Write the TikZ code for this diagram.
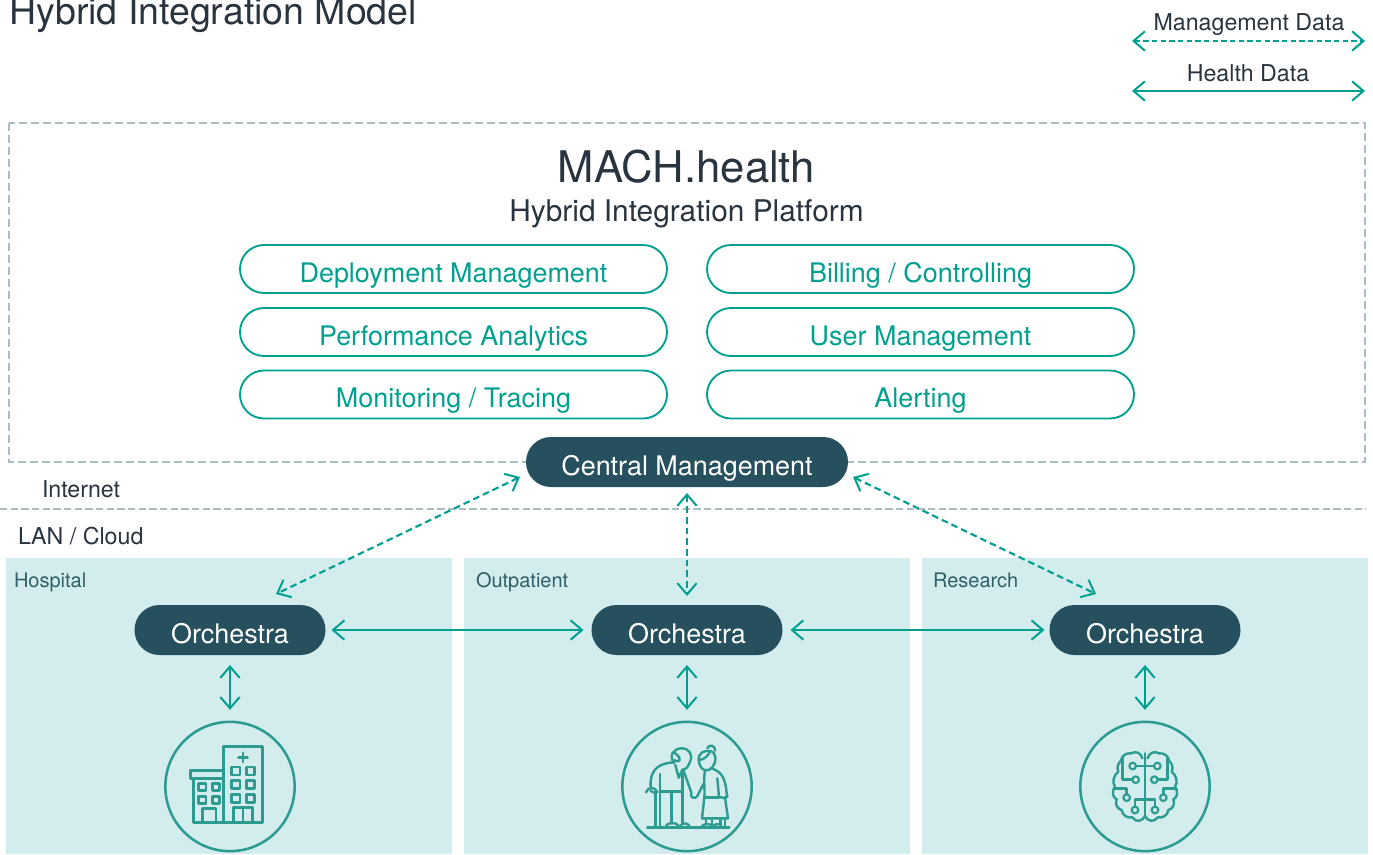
\documentclass[tikz,border=0pt]{standalone}
\usepackage{fontspec}
\usetikzlibrary{arrows.meta}
\setmainfont{TeX Gyre Heros}
\definecolor{teal}{HTML}{00A08F}
\definecolor{icon}{HTML}{2B9C8F}
\definecolor{darkpill}{HTML}{27505E}
\definecolor{panel}{HTML}{D3ECEE}
\definecolor{dashgrey}{HTML}{A9BDC4}
\definecolor{ink}{HTML}{2A343E}
\definecolor{paneltext}{HTML}{2F5F68}
\newcommand{\fs}[1]{\fontsize{#1}{#1}\selectfont}
\tikzset{
  every node/.style={inner sep=0pt,outer sep=0pt},
  tiptwo/.style={{Straight Barb[length=8.5pt,width=14.5pt,line width=1.5pt]}-{Straight Barb[length=8.5pt,width=14.5pt,line width=1.5pt]}},
  health/.style={tiptwo,teal,line width=1.5pt},
  mgmt/.style={tiptwo,teal,line width=1.6pt,dash pattern=on 5pt off 3pt},
  legm/.style={tiptwo,teal,line width=1.4pt,dash pattern=on 4pt off 2.5pt},
  pill/.style={draw=teal,line width=1.4pt,rounded corners=18pt,fill=white,minimum width=320.25pt,minimum height=36pt,text=teal,font=\fs{20.2},text height=27.75pt,text depth=8.25pt},
  darkp/.style={fill=darkpill,text=white,rounded corners=18.7pt,minimum height=37.5pt,font=\fs{20.2},text height=28.5pt,text depth=9pt},
  orch/.style={darkp,minimum width=143.25pt},
  lab/.style={text=ink,anchor=base west,font=\fs{17.4}},
  paneltitle/.style={text=paneltext,anchor=base west,font=\fs{15}},
  ring/.style={draw=icon,line width=1.9pt},
  glyph/.style={draw=icon,line width=1.8pt,line join=round,line cap=round},
  knot/.style={circle,draw=icon,line width=1.6pt,minimum size=5pt,fill=panel},
}
\begin{document}
\begin{tikzpicture}[x=0.75pt,y=-0.75pt]
\useasboundingbox (0,0) rectangle (1373,854);
\clip (0,0) rectangle (1373,854);
\fill[white] (0,0) rectangle (1373,854);

\node[text=ink,anchor=base west,font=\fs{28.1}] (title) at (9.5,24) {Hybrid Integration Model};
\node[text=ink,anchor=base,font=\fs{17.4}] (legmtext) at (1249,30.5) {Management Data};
\node[text=ink,anchor=base,font=\fs{17.4}] (leghtext) at (1248,81.5) {Health Data};
\coordinate (lm1) at (1132,41); \coordinate (lm2) at (1365,41);
\coordinate (lh1) at (1132,91); \coordinate (lh2) at (1365,91);
\draw[legm] (lm1) -- (lm2);
\draw[health] (lh1) -- (lh2);

\draw[dashgrey,line width=1.2pt,dash pattern=on 6pt off 3pt] (9,123) rectangle (1365,462);
\draw[dashgrey,line width=1pt,dash pattern=on 5.5pt off 2.5pt] (0,509) -- (1366,509);

\node[text=ink,anchor=base,font=\fs{32.7}] (mach) at (686.5,182) {MACH.health};
\node[text=ink,anchor=base,font=\fs{22.4}] (hip) at (686.5,221) {Hybrid Integration Platform};

\node[pill] (p1) at (453.5,269) {Deployment Management};
\node[pill] (p2) at (453.5,332) {Performance Analytics};
\node[pill] (p3) at (453.5,394.5) {Monitoring / Tracing};
\node[pill] (p4) at (920.5,269) {Billing / Controlling\hspace{2pt}};
\node[pill] (p5) at (920.5,332) {User Management\hspace{2pt}};
\node[pill] (p6) at (920.5,394.5) {Alerting\hspace{2pt}};

\node[lab] (inet) at (42,497) {Internet};
\node[lab] (lan) at (18,544) {LAN / Cloud};

\fill[panel] (6,558) rectangle (452,854);
\fill[panel] (464,558) rectangle (910,854);
\fill[panel] (922,558) rectangle (1368,854);
\node[paneltitle] (t1) at (14,587.5) {Hospital};
\node[paneltitle] (t2) at (476,587.5) {Outpatient};
\node[paneltitle] (t3) at (933,587.5) {Research};

\node[darkp,minimum width=241.5pt] (cm) at (687,462) {Central Management\hspace{3pt}};
\node[orch] (o1) at (230,630) {Orchestra\hspace{3pt}};
\node[orch] (o2) at (687,630) {Orchestra\hspace{2pt}};
\node[orch] (o3) at (1145,630) {Orchestra\hspace{3pt}};

\node[ring,circle,minimum size=97pt] (c1) at (230,786.5) {};
\node[ring,circle,minimum size=97pt] (c2) at (687,786.5) {};
\node[ring,circle,minimum size=97pt] (c3) at (1145,786.5) {};

\coordinate (a1) at (520,477); \coordinate (a2) at (276,594);
\coordinate (b1) at (687,493); \coordinate (b2) at (687,596);
\coordinate (d1) at (853,477); \coordinate (d2) at (1096,594);
\draw[mgmt] (a1) -- (a2);
\draw[mgmt] (b1) -- (b2);
\draw[mgmt] (d1) -- (d2);

\draw[health,shorten <=4.5pt,shorten >=6pt] (o1.east) -- (o2.west);
\draw[health,shorten <=6pt,shorten >=3.8pt] (o2.east) -- (o3.west);
\draw[health,shorten <=7.5pt,shorten >=9pt] (o1.south) -- (c1.north);
\draw[health,shorten <=7.5pt,shorten >=9pt] (o2.south) -- (c2.north);
\draw[health,shorten <=7.5pt,shorten >=9pt] (o3.south) -- (c3.north);

% hospital
\begin{scope}[shift={(150,710)},x=0.25pt,y=-0.25pt,glyph]
\draw (221,338) -- (221,110) -- (337,110) -- (337,338) -- cycle;
\draw (279,128) -- (279,156) (265,142) -- (293,142);
\foreach \yy in {171,212,253} {
  \draw (245,\yy) rectangle ++(25,24);
  \draw (289,\yy) rectangle ++(25,24);
}
\draw (250,338) -- (250,293) -- (308,293) -- (308,338) (279,293) -- (279,338);
\draw (122,181) rectangle (221,206);
\draw (131,206) -- (131,338) -- (221,338);
\foreach \yy in {220,260} {
  \draw (146,\yy) rectangle ++(22,21);
  \draw (187,\yy) rectangle ++(22,21);
}
\draw (157,338) -- (157,296) -- (198,296) -- (198,338);
\end{scope}

% couple
\begin{scope}[shift={(610,710)},x=0.25pt,y=-0.25pt,glyph]
\draw (112,352) -- (358,352);
% man head
\draw (192,160) .. controls (175,135) and (192,115) .. (215,115) .. controls (238,115) and (250,135) .. (240,155) .. controls (235,172) and (225,180) .. (215,180);
\draw (194,128) .. controls (205,140) and (210,138) .. (208,152) .. controls (202,155) and (197,155) .. (193,150);
\draw (196,165) -- (206,203) -- (218,178);
% back and arm
\draw (190,157) .. controls (150,160) and (125,175) .. (122,215) -- (122,232);
\draw (108,247) .. controls (112,232) and (135,228) .. (142,246) .. controls (135,252) and (128,245) .. (122,243);
\draw (137,246) -- (137,352) (150,352) -- (150,192);
\draw (150,245) -- (218,245);
\draw (185,245) -- (185,340) (218,190) -- (218,340);
\draw (168,347) .. controls (172,338) and (198,335) .. (206,347) (212,347) .. controls (215,338) and (232,338) .. (238,347);
\draw (222,185) -- (244,248) .. controls (238,262) and (255,270) .. (262,258) -- (280,222);
% woman
\draw (288,123) .. controls (268,125) and (262,145) .. (268,160) .. controls (272,178) and (285,183) .. (295,180) .. controls (315,172) and (322,145) .. (312,130) .. controls (305,122) and (295,122) .. (288,123);
\draw (292,115) .. controls (295,102) and (318,105) .. (315,122);
\draw (268,150) .. controls (285,148) and (295,135) .. (298,128);
\draw (305,175) .. controls (330,185) and (345,195) .. (350,250) -- (352,260);
\draw (352,260) .. controls (345,265) and (335,265) .. (327,260) -- (322,205);
\draw (285,182) .. controls (280,205) and (285,240) .. (283,262) -- (276,325) -- (354,325) -- (345,262);
\draw (283,262) -- (327,262);
\draw (288,325) -- (288,340) (306,325) -- (306,350) (332,325) -- (332,350) (345,325) -- (345,350);
\draw (275,350) .. controls (278,342) and (295,340) .. (304,345) (310,350) .. controls (312,342) and (325,340) .. (334,345);
\end{scope}

% brain
\begin{scope}[shift={(1065,710)},x=0.25pt,y=-0.25pt,glyph]
\foreach \sx/\ox in {1/0,-1/480} {
\begin{scope}[shift={(\ox,0)},xscale=\sx]
\draw (232,145) .. controls (228,128) and (212,122) .. (198,130) .. controls (182,128) and (170,138) .. (168,152) .. controls (158,160) and (155,175) .. (160,185) .. controls (146,195) and (140,218) .. (150,230) .. controls (140,245) and (142,262) .. (155,268) .. controls (148,285) and (160,298) .. (170,300) .. controls (172,318) and (190,325) .. (202,322) .. controls (212,338) and (232,335) .. (240,318);
\draw (240,168) -- (212,168);
\node[knot] (n\ox a) at (203,168) {};
\draw (203,209) -- (172,209) -- (172,145);
\node[knot] (n\ox b) at (212,209) {};
\draw (146,235) -- (185,235) -- (185,254);
\node[knot] (n\ox c) at (185,263) {};
\draw (240,268) -- (210,268) -- (210,291);
\node[knot] (n\ox d) at (210,300) {};
\end{scope}}
\draw (240,130) -- (240,320);
\end{scope}
\end{tikzpicture}
\end{document}
